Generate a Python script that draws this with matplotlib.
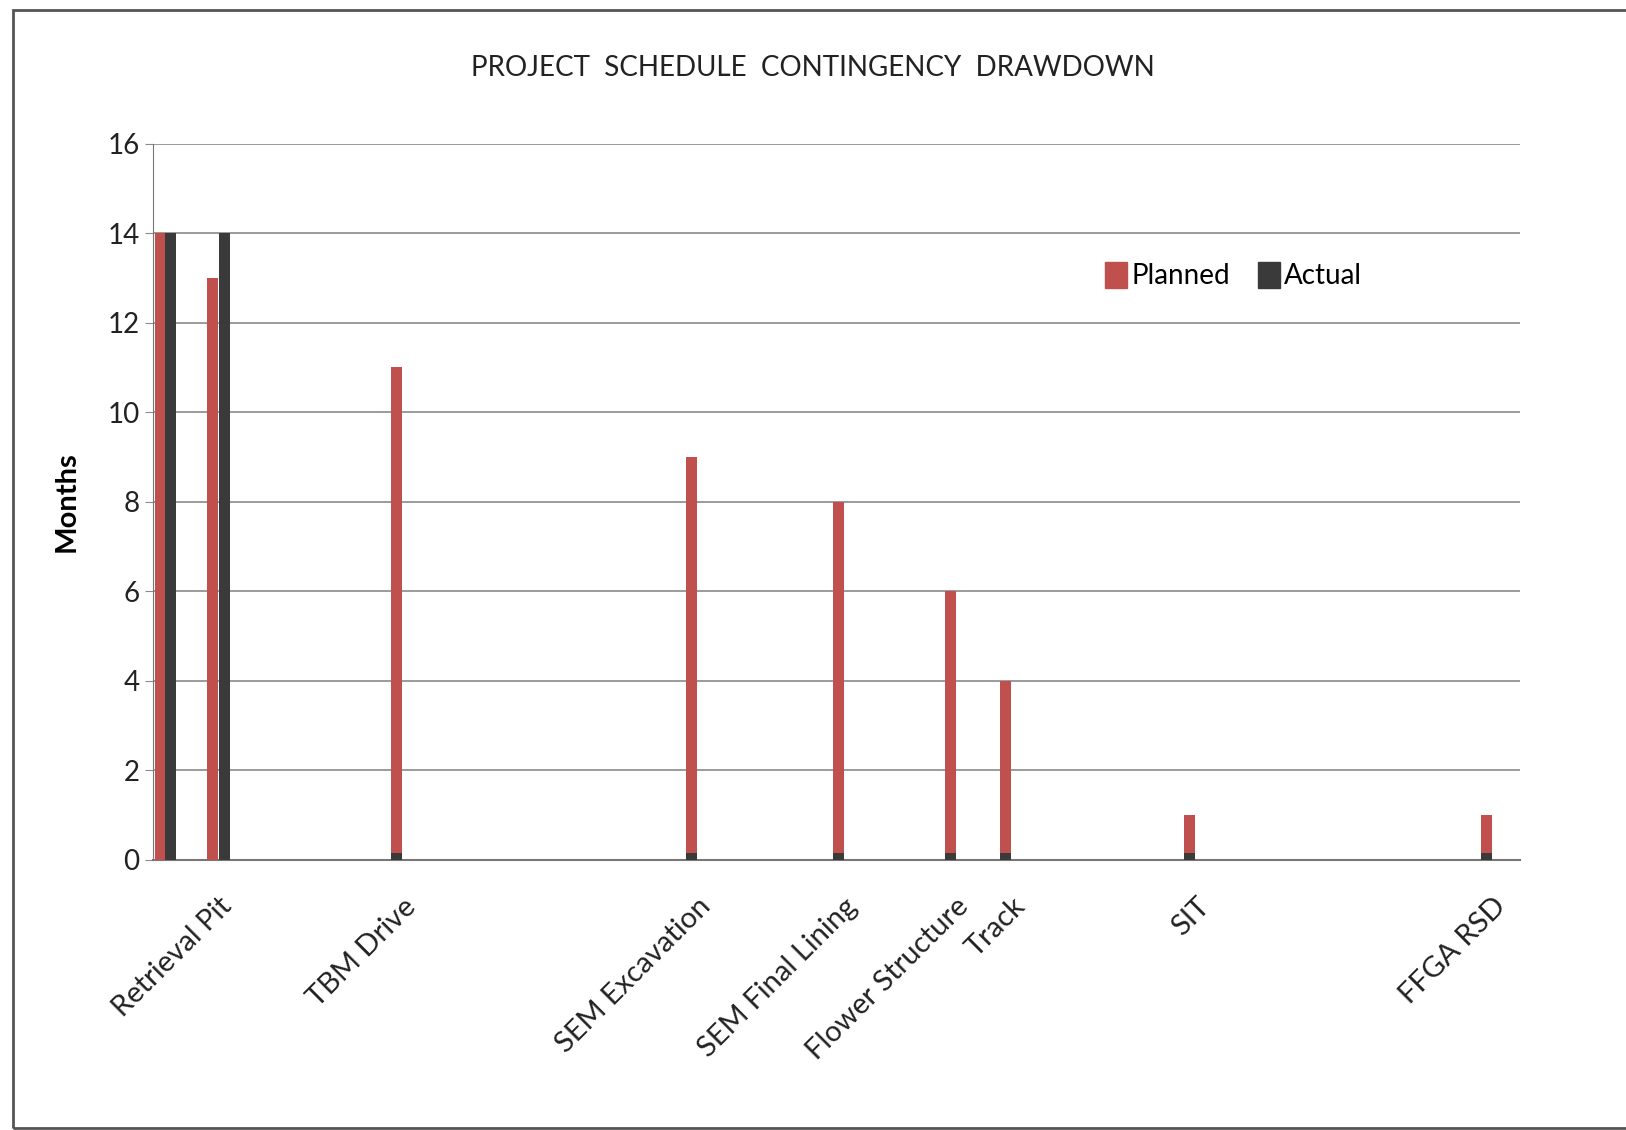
import matplotlib.pyplot as plt
from matplotlib.patches import Patch, Rectangle

# positions along the schedule (months from start of the time axis)
planned_x = [0.32, 2.6, 10.7, 23.65, 30.1, 35.0, 37.4, 45.5, 58.5]
planned = [14, 13, 11, 9, 8, 6, 4, 1, 1]
actual_x = [0.77, 3.14, 10.7, 23.65, 30.1, 35.0, 37.4, 45.5, 58.5]
actual = [14, 14, 0.15, 0.15, 0.15, 0.15, 0.15, 0.15, 0.15]

milestone_x = [2.9, 10.95, 23.9, 30.3, 35.2, 37.7, 45.8, 58.8]
milestones = ["Retrieval Pit", "TBM Drive", "SEM Excavation", "SEM Final Lining",
              "Flower Structure", "Track", "SIT", "FFGA RSD"]

plt.rcParams['font.family'] = ['Lato', 'DejaVu Sans']

red = "#C0504D"
dark = "#3A3A3A"

fig = plt.figure(figsize=(16.26, 11.3), dpi=100)
ax = fig.add_axes([0.094, 0.239, 0.841, 0.634])

ax.bar(planned_x, planned, width=0.48, color=red, label="Planned", zorder=3)
ax.bar(actual_x, actual, width=0.48, color=dark, label="Actual", zorder=3)

ax.set_xlim(0, 60)
ax.set_ylim(0, 16)
ax.set_yticks(range(0, 17, 2))
ax.yaxis.grid(True, color="#8a8a8a", linewidth=1.2)
ax.set_axisbelow(True)
ax.tick_params(axis="y", labelsize=20, length=6, color="#8a8a8a", labelcolor="#222222")
ax.set_xticks(milestone_x)
ax.set_xticklabels(milestones, rotation=45, ha="right", va="top",
                   rotation_mode="anchor", fontsize=21, color="#222222")
ax.tick_params(axis="x", length=0, pad=24)
for s in ["top", "right"]:
    ax.spines[s].set_visible(False)
ax.spines["left"].set_color("#777777")
ax.spines["bottom"].set_color("#777777")
ax.spines["bottom"].set_linewidth(1.5)

ax.set_ylabel("Months", fontsize=21, fontweight="bold", labelpad=20)
fig.text(0.5, 0.94, "PROJECT  SCHEDULE  CONTINGENCY  DRAWDOWN",
         ha="center", va="center", fontsize=20, color="#222222")

handles = [Patch(color=red), Patch(color=dark)]
ax.legend(handles, ["Planned", "Actual"], loc="upper left", bbox_to_anchor=(0.678, 0.87),
          ncol=2, frameon=False, fontsize=20, handlelength=0.8, handleheight=1.1,
          handletextpad=0.15, columnspacing=1.0)

fig.patches.append(Rectangle((13 / 1626, 2 / 1130), 1.2, 1 - 12 / 1130,
                             transform=fig.transFigure, fill=False,
                             edgecolor="#555555", linewidth=2))

fig.savefig("out.png", dpi=100)
